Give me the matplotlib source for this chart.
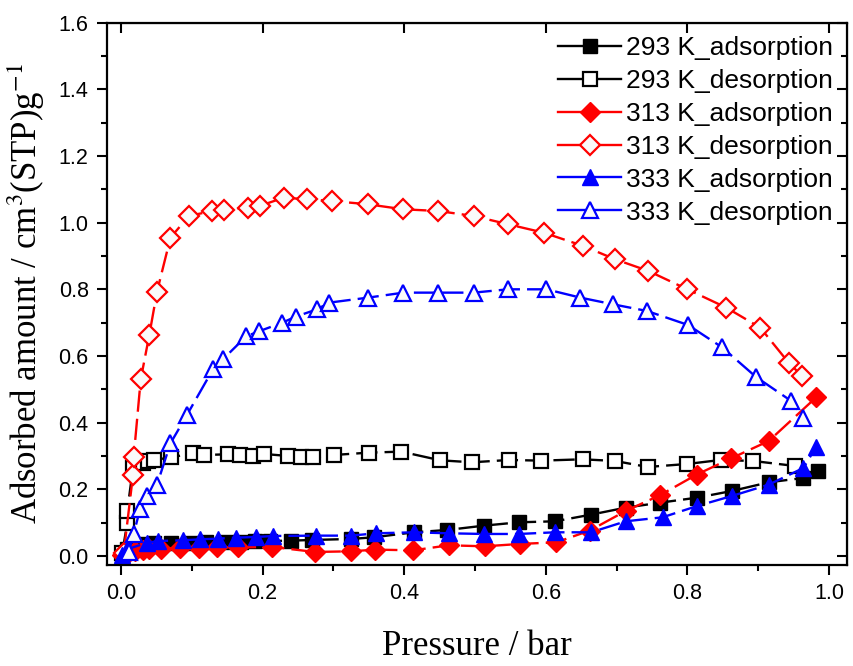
import numpy as np
import matplotlib.pyplot as plt
from matplotlib.ticker import MultipleLocator

# 293 K
p293_ads = [0.002, 0.008, 0.02, 0.032, 0.047, 0.071, 0.10, 0.12, 0.15, 0.17, 0.19, 0.21, 0.24, 0.27,
            0.325, 0.357, 0.414, 0.461, 0.513, 0.562, 0.613, 0.664, 0.713, 0.762, 0.814, 0.863,
            0.915, 0.964, 0.985]
q293_ads = [0.005, 0.02, 0.03, 0.035, 0.038, 0.04, 0.04, 0.042, 0.042, 0.043, 0.044, 0.045, 0.046, 0.048,
            0.051, 0.056, 0.071, 0.078, 0.091, 0.101, 0.104, 0.124, 0.145, 0.160, 0.175, 0.195,
            0.221, 0.234, 0.254]
p293_des = [0.002, 0.009, 0.009, 0.017, 0.031, 0.038, 0.047, 0.071, 0.102, 0.118, 0.151, 0.168,
            0.186, 0.202, 0.236, 0.254, 0.271, 0.301, 0.350, 0.396, 0.451, 0.496, 0.548, 0.594,
            0.652, 0.698, 0.744, 0.800, 0.847, 0.893, 0.952]
q293_des = [0.01, 0.10, 0.135, 0.264, 0.28, 0.285, 0.288, 0.296, 0.308, 0.303, 0.305, 0.303,
            0.300, 0.306, 0.300, 0.298, 0.296, 0.303, 0.310, 0.313, 0.287, 0.281, 0.288, 0.286,
            0.290, 0.285, 0.267, 0.276, 0.288, 0.285, 0.270]

# 313 K
p313_ads = [0.002, 0.01, 0.02, 0.031, 0.040, 0.056, 0.084, 0.110, 0.136, 0.165, 0.214, 0.274,
            0.325, 0.359, 0.413, 0.463, 0.514, 0.563, 0.615, 0.662, 0.713, 0.762, 0.813, 0.862,
            0.915, 0.982]
q313_ads = [0.003, 0.01, 0.015, 0.018, 0.02, 0.022, 0.024, 0.025, 0.026, 0.026, 0.027, 0.012,
            0.014, 0.019, 0.017, 0.032, 0.029, 0.036, 0.041, 0.076, 0.135, 0.183, 0.244, 0.293,
            0.345, 0.476]
p313_des = [0.004, 0.017, 0.018, 0.028, 0.040, 0.051, 0.070, 0.096, 0.129, 0.145, 0.179, 0.196,
            0.230, 0.263, 0.298, 0.349, 0.399, 0.448, 0.498, 0.547, 0.597, 0.653, 0.698, 0.745,
            0.80, 0.855, 0.903, 0.943, 0.962]
q313_des = [0.01, 0.242, 0.296, 0.53, 0.662, 0.793, 0.955, 1.02, 1.035, 1.038, 1.045, 1.05,
            1.075, 1.07, 1.065, 1.055, 1.04, 1.035, 1.02, 0.995, 0.97, 0.93, 0.89, 0.855,
            0.80, 0.745, 0.685, 0.58, 0.54]

# 333 K
p333_ads = [0.002, 0.009, 0.037, 0.053, 0.088, 0.112, 0.137, 0.163, 0.191, 0.215, 0.276, 0.325,
            0.360, 0.414, 0.463, 0.513, 0.562, 0.613, 0.664, 0.713, 0.765, 0.814, 0.863, 0.915,
            0.964, 0.982]
q333_ads = [0.003, 0.02, 0.04, 0.045, 0.047, 0.05, 0.052, 0.055, 0.057, 0.06, 0.061, 0.061,
            0.068, 0.071, 0.068, 0.066, 0.066, 0.071, 0.071, 0.104, 0.116, 0.150, 0.180, 0.214,
            0.264, 0.328]
p333_des = [0.011, 0.018, 0.027, 0.037, 0.051, 0.070, 0.093, 0.130, 0.144, 0.177, 0.195, 0.228,
            0.247, 0.277, 0.294, 0.349, 0.399, 0.448, 0.498, 0.547, 0.601, 0.649, 0.695, 0.743,
            0.801, 0.849, 0.897, 0.946, 0.964]
q333_des = [0.012, 0.066, 0.14, 0.18, 0.214, 0.338, 0.422, 0.56, 0.59, 0.659, 0.674, 0.70,
            0.718, 0.74, 0.76, 0.775, 0.79, 0.79, 0.79, 0.80, 0.80, 0.775, 0.755, 0.735,
            0.693, 0.626, 0.537, 0.466, 0.415]

plt.rcParams['font.family'] = ['Liberation Sans', 'DejaVu Sans']
plt.rcParams['mathtext.fontset'] = 'stix'

fig = plt.figure(figsize=(8.54, 6.66), dpi=100)
ax = fig.add_axes([0.125, 0.1517, 0.8664, 0.8143])

ls = (0, (9, 3))
ax.plot(p293_ads, q293_ads, color='black', ls=ls, lw=1.7, marker='s', ms=10,
        mfc='black', mec='black', label='293 K_adsorption')
ax.plot(p293_des, q293_des, color='black', ls=ls, lw=1.7, marker='s', ms=10,
        mfc='white', mec='black', mew=1.6, label='293 K_desorption')
ax.plot(p313_ads, q313_ads, color='red', ls=ls, lw=1.7, marker='D', ms=10,
        mfc='red', mec='red', label='313 K_adsorption')
ax.plot(p313_des, q313_des, color='red', ls=ls, lw=1.7, marker='D', ms=10,
        mfc='#fafafa', mec='red', mew=1.6, label='313 K_desorption')
ax.plot(p333_ads, q333_ads, color='blue', ls=ls, lw=1.7, marker='^', ms=12,
        mfc='blue', mec='blue', label='333 K_adsorption')
ax.plot(p333_des, q333_des, color='blue', ls=ls, lw=1.7, marker='^', ms=12,
        mfc='#fafafa', mec='blue', mew=1.6, label='333 K_desorption')

ax.set_xlim(-0.020, 1.025)
ax.set_ylim(-0.027, 1.6)
ax.xaxis.set_major_locator(MultipleLocator(0.2))
ax.xaxis.set_minor_locator(MultipleLocator(0.1))
ax.yaxis.set_major_locator(MultipleLocator(0.2))
ax.yaxis.set_minor_locator(MultipleLocator(0.1))
ax.tick_params(which='both', direction='out', width=1.5, labelsize=15.5)
ax.tick_params(which='major', length=7, pad=6)
ax.tick_params(which='minor', length=4)
for s in ax.spines.values():
    s.set_linewidth(1.6)

axt = ax.secondary_xaxis('top')
axt.xaxis.set_major_locator(MultipleLocator(0.2))
axt.tick_params(direction='in', length=7, width=1.5, labeltop=False)
axr = ax.secondary_yaxis('right')
axr.yaxis.set_major_locator(MultipleLocator(0.2))
axr.yaxis.set_minor_locator(MultipleLocator(0.1))
axr.tick_params(which='both', direction='in', width=1.5, labelright=False)
axr.tick_params(which='major', length=7)
axr.tick_params(which='minor', length=4)

ax.set_xticklabels([f'{v:.1f}' for v in ax.get_xticks()])
ax.set_xlabel('Pressure / bar', family='Liberation Serif', fontsize=25, labelpad=19)
ax.set_ylabel('Adsorbed amount / cm$^3$(STP)g$^{-1}$', family='Liberation Serif',
              fontsize=25, labelpad=8)

leg = ax.legend(loc='upper right', frameon=False, fontsize=19, handlelength=2.4,
                handletextpad=0.2, labelspacing=0.34, borderaxespad=0.1,
                bbox_to_anchor=(1.0, 1.0))
for ln in leg.get_lines():
    ln.set_linestyle('-')

fig.savefig('out.png', dpi=100)
